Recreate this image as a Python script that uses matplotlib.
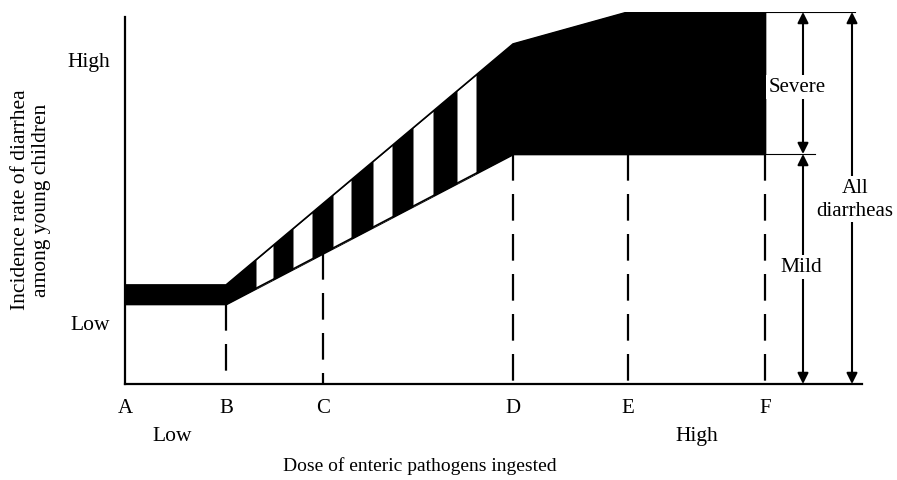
import numpy as np
import matplotlib
matplotlib.use("Agg")
import matplotlib.pyplot as plt

plt.rcParams['font.family'] = ['Liberation Serif', 'DejaVu Serif']

# dose positions (arbitrary units along the x axis)
dose_labels = ['A', 'B', 'C', 'D', 'E', 'F']
dose_pos = [0, 101, 198, 388, 503, 640]

# boundaries of the diarrhea band (incidence, arbitrary units)
band_x = [0, 101, 388, 503, 640]
all_diarrheas = [99, 99, 340, 372, 372]
mild_only = [80, 80, 230, 230, 230]

# white stripes in the transition zone (start, end dose)
stripes = [(131, 148), (168, 187), (208, 226), (248, 267), (288, 308), (332, 351)]

y_ticks = [62, 325]
y_ticklabels = ['Low', 'High']

fig = plt.figure(figsize=(8.97, 4.81), dpi=100)
W, H = 897, 481
ax = fig.add_axes([125 / W, (H - 385) / H, (862 - 125) / W, (385 - 13) / H])
ax.set_xlim(0, 737)
ax.set_ylim(0, 372)

ax.fill_between(band_x, mild_only, all_diarrheas, color='black', lw=1.2, zorder=2)
for x0, x1 in stripes:
    xs = np.array([x0, x1])
    ax.fill_between(xs, np.interp(xs, band_x, mild_only),
                    np.interp(xs, band_x, all_diarrheas),
                    color='white', lw=0, zorder=3)
ax.plot(band_x, mild_only, color='black', lw=1.2, zorder=4)
ax.plot(band_x, all_diarrheas, color='black', lw=1.2, zorder=4)

# dashed drop lines
for x in dose_pos[1:]:
    ytop = np.interp(x, band_x, mild_only)
    ax.plot([x, x], [ytop, 0], color='black', lw=1.6,
            linestyle=(0, (12, 6.0)), zorder=1)

# right-hand brackets
ax.plot([dose_pos[-1], 690], [mild_only[-1], mild_only[-1]], color='black', lw=0.8)
ax.plot([dose_pos[-1], 730], [all_diarrheas[-1], all_diarrheas[-1]], color='black', lw=0.8)

arrow = dict(arrowstyle='<|-|>', color='black', lw=1.5, mutation_scale=16,
             shrinkA=0, shrinkB=0)
x_sev, x_all = 678, 727
ax.annotate('', xy=(x_sev, all_diarrheas[-1]), xytext=(x_sev, mild_only[-1]),
            arrowprops=arrow)
ax.annotate('', xy=(x_sev, mild_only[-1]), xytext=(x_sev, 0), arrowprops=arrow)
ax.annotate('', xy=(x_all, all_diarrheas[-1]), xytext=(x_all, 0), arrowprops=arrow)

box = dict(facecolor='white', edgecolor='none', pad=2)
ax.text(x_sev - 6, 297, 'Severe', ha='center', va='center', fontsize=15, bbox=box, zorder=5)
ax.text(x_sev - 2, 117, 'Mild', ha='center', va='center', fontsize=15.5, bbox=box, zorder=5)
ax.text(x_all + 3, 185, 'All\ndiarrheas', ha='center', va='center', fontsize=15,
        linespacing=1.25, bbox=box, zorder=5)

# axes styling
for s in ['top', 'right']:
    ax.spines[s].set_visible(False)
ax.spines['left'].set_bounds(0, 367)
ax.spines['left'].set_linewidth(1.6)
ax.spines['bottom'].set_linewidth(1.6)

ax.set_xticks(dose_pos)
ax.set_xticklabels(dose_labels, fontsize=15)
ax.set_yticks(y_ticks)
ax.set_yticklabels(y_ticklabels, fontsize=15.5)
ax.tick_params(axis='x', length=0, pad=10)
ax.tick_params(axis='y', length=0, pad=11)

fig.text(172 / W, 1 - 437 / H, 'Low', ha='center', va='center', fontsize=15.5)
fig.text(697 / W, 1 - 437 / H, 'High', ha='center', va='center', fontsize=15.5)
fig.text(420 / W, 1 - 466 / H, 'Dose of enteric pathogens ingested',
         ha='center', va='center', fontsize=14)
fig.text(31 / W, 1 - 200 / H, 'Incidence rate of diarrhea\namong young children',
         ha='center', va='center', rotation=90, fontsize=15.5, linespacing=1.15)

fig.savefig('out.png', dpi=100)
